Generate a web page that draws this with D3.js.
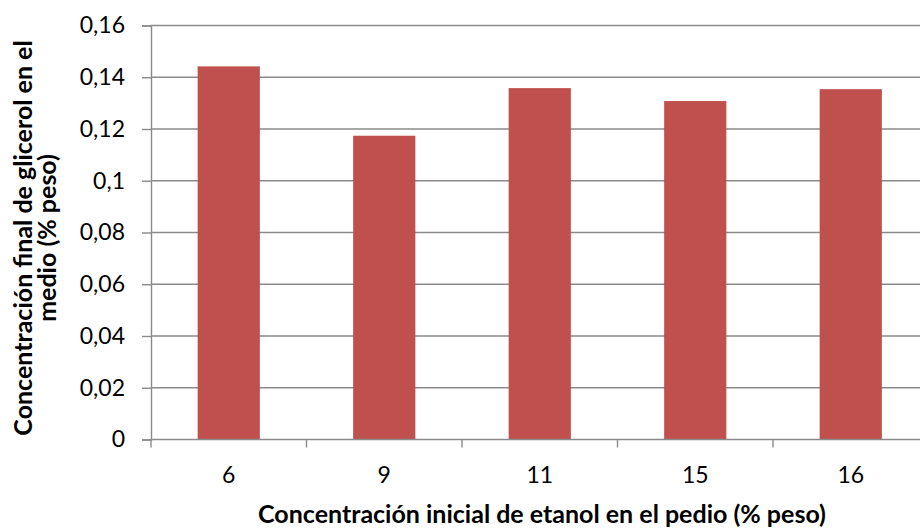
<!DOCTYPE html>
<html>
<head>
<meta charset="utf-8">
<script src="https://cdn.jsdelivr.net/npm/d3@7"></script>
<style>
  html, body { margin: 0; padding: 0; background: #ffffff; }
  svg text { font-family: Lato, "Open Sans", "Liberation Sans", sans-serif; fill: #000; }
</style>
</head>
<body>
<svg id="chart" width="920" height="529"></svg>
<script>
// Initial ethanol concentration (% weight) and final glycerol concentration (% weight)
const categories = ["6", "9", "11", "15", "16"];
const glycerol = [0.1442, 0.1174, 0.1358, 0.1308, 0.1354];
const yTicks = [0, 0.02, 0.04, 0.06, 0.08, 0.1, 0.12, 0.14, 0.16];
const yTickLabels = ["0", "0,02", "0,04", "0,06", "0,08", "0,1", "0,12", "0,14", "0,16"];

(function () {
const svg = d3.select("#chart");
const plotLeft = 151, plotRight = 928.5, plotTop = 25.5, plotBottom = 439.5;
const gray = "#8a8a8a";

const x = d3.scaleBand().domain(categories).range([plotLeft, plotRight]).paddingInner(0.6).paddingOuter(0.3);
const xTicks = d3.scaleBand().domain(categories).range([plotLeft, plotRight]);
const y = d3.scaleLinear().domain([0, 0.16]).range([plotBottom, plotTop]);

// horizontal gridlines
svg.append("g")
  .selectAll("line")
  .data(yTicks.slice(1))
  .join("line")
  .attr("x1", plotLeft).attr("x2", plotRight)
  .attr("y1", d => y(d)).attr("y2", d => y(d))
  .attr("stroke", gray).attr("stroke-width", 1.4);

// bars
svg.append("g")
  .selectAll("rect")
  .data(glycerol)
  .join("rect")
  .attr("x", (d, i) => x(categories[i]))
  .attr("width", x.bandwidth())
  .attr("y", d => y(d))
  .attr("height", d => y(0) - y(d))
  .attr("fill", "#c0504d");

// y axis
const yAxis = d3.axisLeft(y)
  .tickValues(yTicks)
  .tickFormat((d, i) => yTickLabels[i])
  .tickSize(9)
  .tickPadding(17);
const gy = svg.append("g").attr("transform", `translate(${plotLeft},0)`).call(yAxis);
gy.select(".domain").attr("stroke", gray).attr("stroke-width", 1.4);
gy.selectAll(".tick line").attr("stroke", gray).attr("stroke-width", 1.4);
gy.selectAll(".tick text").style("font-size", "23px").attr("fill", "#000");

// x axis: baseline and category boundary ticks
svg.append("line")
  .attr("x1", plotLeft).attr("x2", plotRight)
  .attr("y1", plotBottom).attr("y2", plotBottom)
  .attr("stroke", gray).attr("stroke-width", 1.4);
svg.append("g")
  .selectAll("line")
  .data(categories)
  .join("line")
  .attr("x1", d => xTicks(d)).attr("x2", d => xTicks(d))
  .attr("y1", plotBottom).attr("y2", plotBottom + 8)
  .attr("stroke", gray).attr("stroke-width", 1.4);
svg.append("g")
  .selectAll("text")
  .data(categories)
  .join("text")
  .attr("x", d => x(d) + x.bandwidth() / 2)
  .attr("y", 483)
  .attr("text-anchor", "middle")
  .style("font-size", "23px")
  .text(d => d);

// axis titles
svg.append("text")
  .attr("x", 542)
  .attr("y", 523)
  .attr("text-anchor", "middle")
  .style("font-size", "25px")
  .style("font-weight", "bold")
  .text("Concentración inicial de etanol en el pedio (% peso)");

const yTitle = svg.append("text")
  .attr("transform", `translate(0,238) rotate(-90)`)
  .attr("text-anchor", "middle")
  .style("font-size", "25px")
  .style("font-weight", "bold");
yTitle.append("tspan").attr("x", 0).attr("y", 32).text("Concentración final de glicerol en el");
yTitle.append("tspan").attr("x", 0).attr("y", 56).text("medio (% peso)");
})();
</script>
</body>
</html>
